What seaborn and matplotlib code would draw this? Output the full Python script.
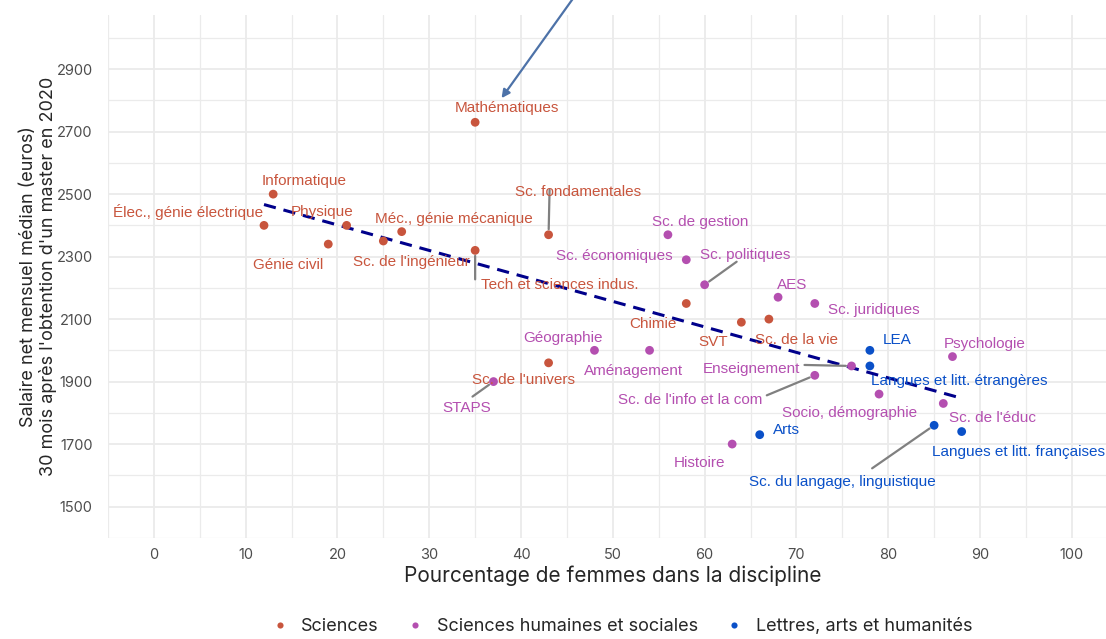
import pandas as pd
import numpy as np
import seaborn as sns
from matplotlib import pyplot as plt

disciplines = [
    "Mathématiques", "Informatique", "Élec., génie électrique", "Physique", "Génie civil",
    "Sc. de l'ingénieur", "Méc., génie mécanique", "Tech et sciences indus.", "Sc. fondamentales",
    "Chimie", "SVT", "Sc. de la vie", "Sc. de l'univers",
    "Sc. de gestion", "Sc. économiques", "Sc. politiques", "AES", "Sc. juridiques", "Géographie",
    "Aménagement", "STAPS", "Enseignement", "Sc. de l'info et la com", "Socio, démographie",
    "Sc. de l'éduc", "Psychologie", "Histoire",
    "LEA", "Langues et litt. étrangères", "Arts", "Sc. du langage, linguistique",
    "Langues et litt. françaises",
]
pct_femmes = [35, 13, 12, 21, 19, 25, 27, 35, 43, 58, 64, 67, 43,
              56, 58, 60, 68, 72, 48, 54, 37, 76, 72, 79, 86, 87, 63,
              78, 78, 66, 85, 88]
salaire = [2730, 2500, 2400, 2400, 2340, 2350, 2380, 2320, 2370, 2150, 2090, 2100, 1960,
           2370, 2290, 2210, 2170, 2150, 2000, 2000, 1900, 1950, 1920, 1860, 1830, 1980, 1700,
           2000, 1950, 1730, 1760, 1740]
groupes = ["Sciences"] * 13 + ["Sciences humaines et sociales"] * 14 + ["Lettres, arts et humanités"] * 5

# label offsets in pixels (dx, dy), and optional leader segments
label_offsets = {
    "Mathématiques": (32, 17), "Informatique": (31, 16), "Élec., génie électrique": (-76, 16),
    "Physique": (-24, 16), "Génie civil": (-40, -18), "Sc. de l'ingénieur": (28, -18),
    "Méc., génie mécanique": (52, 16), "Tech et sciences indus.": (85, -32),
    "Sc. fondamentales": (29, 46), "Chimie": (-33, -18), "SVT": (-28, -17),
    "Sc. de la vie": (28, -18), "Sc. de l'univers": (-25, -14), "Sc. de gestion": (32, 16),
    "Sc. économiques": (-72, 7), "Sc. politiques": (41, 33), "AES": (14, 15),
    "Sc. juridiques": (59, -4), "Géographie": (-31, 15), "Aménagement": (-16, -18),
    "STAPS": (-27, -23), "Enseignement": (-100, 0), "Sc. de l'info et la com": (-125, -22),
    "Socio, démographie": (-29, -16), "Sc. de l'éduc": (49, -12), "Psychologie": (32, 16),
    "Histoire": (-33, -16), "LEA": (27, 13), "Langues et litt. étrangères": (89, -12),
    "Arts": (27, 8), "Sc. du langage, linguistique": (-92, -54),
    "Langues et litt. françaises": (57, -17),
}
segments = {
    "Tech et sciences indus.": (0, -29), "Sc. fondamentales": (1, 45),
    "Sc. politiques": (32, 23), "STAPS": (-21, -15), "Enseignement": (-47, 1),
    "Sc. de l'info et la com": (-48, -20), "Sc. du langage, linguistique": (-62, -43),
}

df = pd.DataFrame({"discipline": disciplines, "pct": pct_femmes, "salaire": salaire, "groupe": groupes})

palette = {"Sciences": "#c8553d", "Sciences humaines et sociales": "#b44fb0",
           "Lettres, arts et humanités": "#0a50c8"}

sns.set_style("whitegrid")
plt.rcParams['font.family'] = ['Inter', 'DejaVu Sans']

fig = plt.figure(figsize=(11.06, 6.39), dpi=100)
ax = fig.add_axes([0.0976, 0.1584, 0.913, 0.8189])

sns.regplot(data=df, x="pct", y="salaire", scatter=False, ci=None, ax=ax,
            line_kws=dict(color="#00008b", lw=2.2, ls=(0, (4, 2.6))))
sns.scatterplot(data=df, x="pct", y="salaire", hue="groupe", palette=palette, s=40,
                edgecolor="none", ax=ax, legend=True, zorder=3)

for _, r in df.iterrows():
    col = palette[r["groupe"]]
    if r["discipline"] in segments:
        ax.annotate("", xy=(r["pct"], r["salaire"]), xytext=segments[r["discipline"]],
                    textcoords="offset pixels",
                    arrowprops=dict(arrowstyle="-", color="#808080", lw=1.6, shrinkA=0, shrinkB=4))
    dx, dy = label_offsets[r["discipline"]]
    ax.annotate(r["discipline"], xy=(r["pct"], r["salaire"]), xytext=(dx, dy - 3),
                textcoords="offset pixels", ha="center", va="center", color=col,
                fontsize=11, family="Liberation Sans", zorder=4)

ax.annotate("", xy=(37.7, 2800), xytext=(46, 3140), annotation_clip=False,
            arrowprops=dict(arrowstyle="-|>", color="#4d72a8", lw=1.6, mutation_scale=12))

ax.set_xlim(-5, 105)
ax.set_ylim(1425, 3075)
ax.set_xticks(range(0, 101, 10))
ax.set_yticks(range(1500, 3000, 200))
ax.set_xticks(range(-5, 106, 10), minor=True)
ax.set_yticks(range(1400, 3100, 200), minor=True)
ax.grid(which="major", color="#ebebeb", lw=1.3)
ax.grid(which="minor", color="#ebebeb", lw=0.9)
for s in ax.spines.values():
    s.set_visible(False)
ax.tick_params(which="both", length=0, labelsize=10.5, labelcolor="#4d4d4d")
ax.tick_params(axis="y", pad=11)
ax.tick_params(axis="x", pad=7)

ax.set_xlabel("Pourcentage de femmes dans la discipline", fontsize=15, labelpad=3)
ax.set_ylabel("Salaire net mensuel médian (euros)\n30 mois après l'obtention d'un master en 2020",
              fontsize=13, linespacing=1.15)
ax.yaxis.set_label_coords(-0.0505, 0.5)

handles, labels = ax.get_legend_handles_labels()
ax.get_legend().remove()
fig.legend(handles, labels, loc="center", bbox_to_anchor=(0.561, 0.019), ncol=3, frameon=False,
           fontsize=13, markerscale=0.7, handletextpad=0.6, columnspacing=1.4, handlelength=1.2)

plt.savefig("out.png", dpi=100)
